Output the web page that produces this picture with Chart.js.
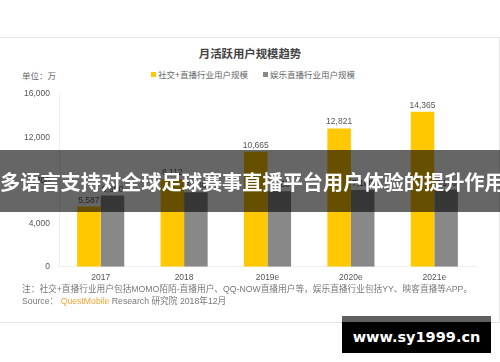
<!DOCTYPE html>
<html>
<head>
<meta charset="utf-8">
<script src="https://cdn.jsdelivr.net/npm/chart.js@4"></script>
<style>
  html, body { margin: 0; padding: 0; background: #fff; }
  #wrap { position: relative; width: 500px; height: 362px; overflow: hidden; font-family: 'Liberation Sans', 'Noto Sans CJK SC', sans-serif; }
  #card { position: absolute; left: -1px; top: 37px; width: 499px; height: 284px; border: 1px solid #e6e6e6; }
  #titulo { position: absolute; left: 0; width: 500px; top: 45px; text-align: center; font-size: 11.4px; color: #444; font-weight: bold; }
  #unidade { position: absolute; left: 22px; top: 69px; font-size: 8.5px; color: #666; }
  #legenda { position: absolute; left: 151px; top: 68px; font-size: 8.5px; color: #666; white-space: nowrap; }
  #legenda span.q { display: inline-block; width: 5px; height: 5px; margin-right: 2px; vertical-align: 1px; }
  #grafico { position: absolute; left: 0; top: 80px; }
  .nota { position: absolute; left: 22px; font-size: 8.7px; color: #777; white-space: nowrap; }
  #faixa { position: absolute; left: 0; top: 150px; width: 500px; height: 62px; background: rgba(0,0,0,0.6); z-index: 5; }
  #faixa div { position: absolute; left: 0; width: 500px; top: 19px; text-align: center; color: #fff; font-weight: bold; font-size: 20.2px; font-family: 'Noto Sans CJK SC', sans-serif; line-height: 26px; white-space: nowrap; }
  #marca { position: absolute; left: 342px; top: 316px; width: 149px; height: 37px; background: #000; border-top: 6px solid #5f5f5f; box-sizing: border-box; z-index: 6; color: #fff; font-family: 'DejaVu Sans', sans-serif; font-weight: bold; font-size: 14.5px; text-align: center; line-height: 30px; }
</style>
</head>
<body>
<div id="wrap">
  <div id="card"></div>
  <div id="titulo">月活跃用户规模趋势</div>
  <div id="unidade">单位：万</div>
  <div id="legenda"><span class="q" style="background:#ffc800"></span>社交+直播行业用户规模<span style="display:inline-block;width:15px"></span><span class="q" style="background:#888"></span>娱乐直播行业用户规模</div>
  <canvas id="grafico" width="500" height="210"></canvas>
  <div class="nota" style="top:282px">注：社交+直播行业用户包括MOMO陌陌-直播用户、QQ-NOW直播用户等，娱乐直播行业包括YY、映客直播等APP。</div>
  <div class="nota" style="top:294px">Source： <span style="color:#f2a533">QuestMobile</span> Research 研究院 2018年12月</div>
  <div id="faixa"><div>多语言支持对全球足球赛事直播平台用户体验的提升作用</div></div>
  <div id="marca">www.sy1999.cn</div>
</div>
<script>
// dados
var anos = ['2017', '2018', '2019e', '2020e', '2021e']
var social_live = [5587, 8112, 10665, 12821, 14365]
var entretenimento = [6600, 6900, 7000, 7100, 7150]
var nomes_series = ['社交+直播行业用户规模', '娱乐直播行业用户规模']
var ticks_y = [0, 4000, 8000, 12000, 16000]

var fonte = "'Liberation Sans', 'Noto Sans CJK SC', sans-serif"

function formatar(v) {
    return Number(v).toLocaleString('en-US')
}

// escreve os valores em cima das barras
var rotulos_barras = {
    id: 'rotulos_barras',
    afterDatasetsDraw: function (chart) {
        let ctx = chart.ctx
        ctx.save()
        ctx.font = '8.5px ' + fonte
        ctx.fillStyle = '#555'
        ctx.textAlign = 'center'
        ctx.textBaseline = 'bottom'
        chart.data.datasets.forEach(function (ds, i) {
            let meta = chart.getDatasetMeta(i)
            meta.data.forEach(function (barra, j) {
                ctx.fillText(formatar(ds.data[j]), barra.x, barra.y - 2)
            })
        })
        ctx.restore()
    }
}

let contexto = document.getElementById('grafico').getContext('2d')
var meuGrafico = new Chart(contexto, {
    type: 'bar',
    data: {
        labels: anos,
        datasets: [{
            label: nomes_series[0],
            data: social_live,
            backgroundColor: '#ffc800',
            categoryPercentage: 0.565,
            barPercentage: 1
        }, {
            label: nomes_series[1],
            data: entretenimento,
            backgroundColor: '#888888',
            categoryPercentage: 0.565,
            barPercentage: 1
        }]
    },
    options: {
        responsive: false,
        animation: false,
        layout: { padding: { top: 8.3, right: 24, left: 0, bottom: 0 } },
        plugins: {
            legend: { display: false },
            title: { display: false },
            tooltip: { enabled: false }
        },
        scales: {
            x: {
                grid: { display: false },
                border: { display: true, color: '#eeeeee', width: 1 },
                ticks: { color: '#555', font: { size: 8.5, family: fonte }, padding: -2 },
                afterFit: function (s) { s.height = 23.3 }
            },
            y: {
                min: 0,
                max: 16000,
                afterBuildTicks: function (s) { s.ticks = ticks_y.map(function (v) { return { value: v } }) },
                grid: { display: false, drawTicks: false },
                border: { display: true, color: '#eeeeee', width: 1 },
                ticks: {
                    color: '#555',
                    font: { size: 8.5, family: fonte },
                    padding: 9,
                    callback: function (v) { return formatar(v) }
                },
                afterFit: function (s) { s.width = 59 }
            }
        }
    },
    plugins: [rotulos_barras]
})
</script>
</body>
</html>
